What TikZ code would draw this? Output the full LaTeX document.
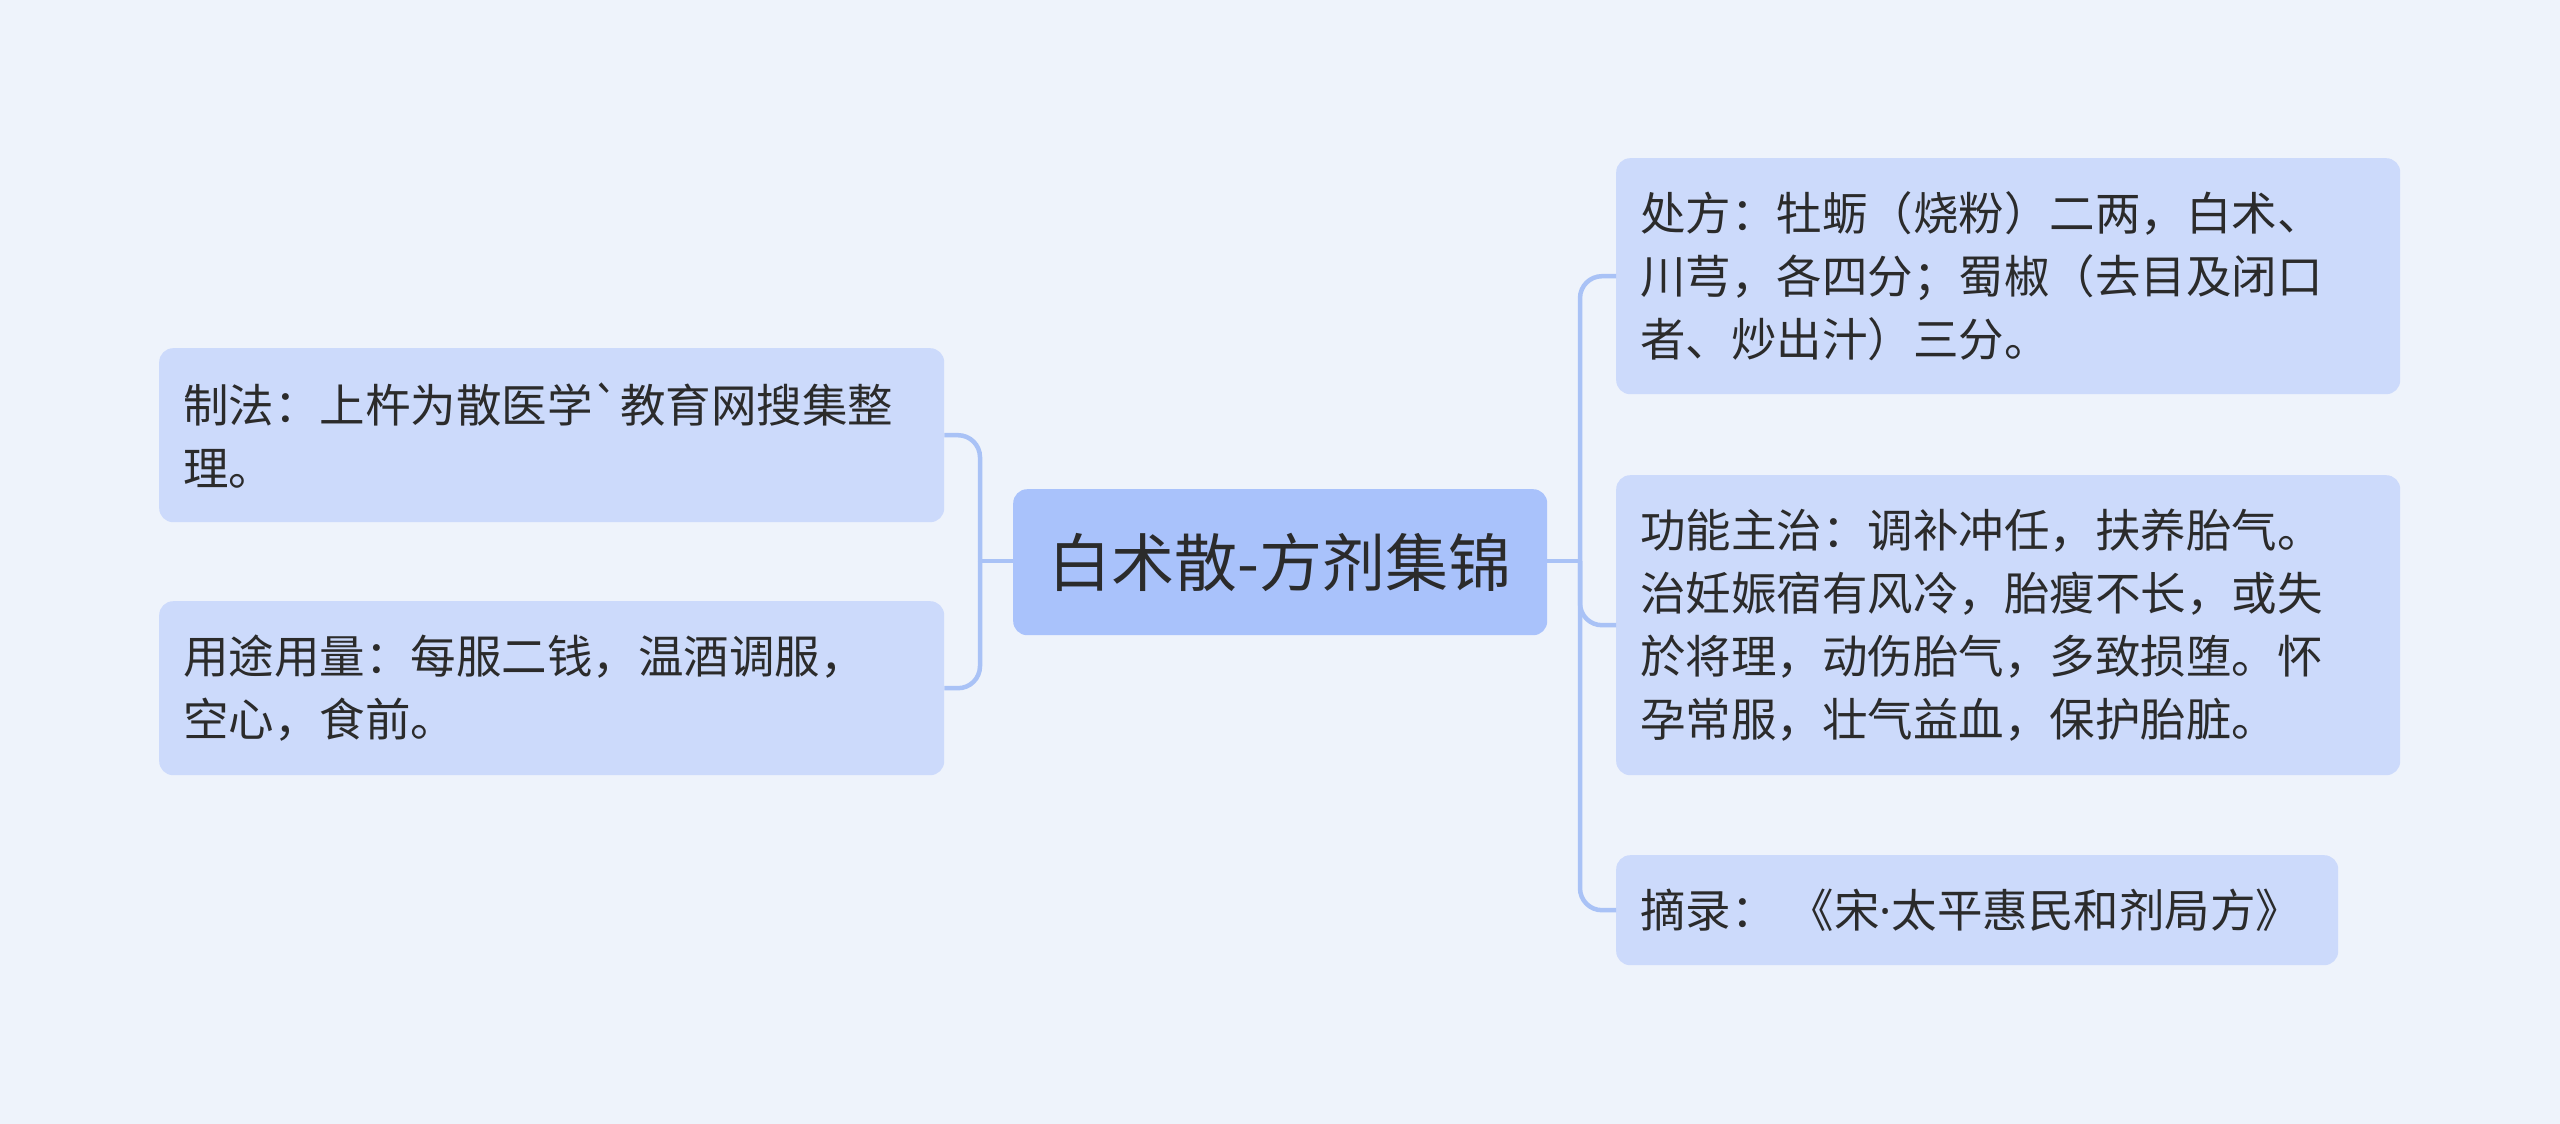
\documentclass[tikz,border=0pt]{standalone}
\usepackage{fontspec}
\newfontfamily\cjk{Noto Sans CJK SC}
\newfontfamily\latinf{Noto Sans}
\definecolor{bgc}{HTML}{EEF3FB}
\definecolor{leaf}{HTML}{CCDAFB}
\definecolor{root}{HTML}{A9C2FB}
\definecolor{linec}{HTML}{A9C2F6}
\definecolor{txtc}{HTML}{2B2B2B}
\tikzset{
  leafbox/.style={fill=leaf, draw=none, rounded corners=14pt, anchor=north west,
    align=left, inner xsep=24pt, inner ysep=0pt, text=txtc,
    font=\cjk\fontsize{45.5}{63}\selectfont},
  rootbox/.style={fill=root, draw=none, rounded corners=14pt, anchor=north west,
    align=center, inner sep=0pt, text=txtc, font=\cjk\fontsize{63}{70}\selectfont},
  conn/.style={draw=linec, line width=4.5pt},
  elbow/.style={conn, rounded corners=22pt}
}
\begin{document}
\begin{tikzpicture}[x=1pt,y=-1pt]
\fill[bgc] (0,0) rectangle (2560,1124);
\useasboundingbox (0,0) rectangle (2560,1124);

\node[rootbox, minimum width=534pt, minimum height=146pt] (c) at (1013,489) {白术散-方剂集锦};

\node[leafbox, minimum width=785pt, minimum height=174pt, text width=737pt] (l1) at (159,348)
  {制法：上杵为散医学`教育网搜集整\\理。};
\node[leafbox, minimum width=785pt, minimum height=174pt, text width=737pt] (l2) at (159,601)
  {用途用量：每服二钱，温酒调服，\\空心，食前。};

\node[leafbox, minimum width=784pt, minimum height=236pt, text width=736pt] (r1) at (1616,158)
  {处方：牡蛎（烧粉）二两，白术、\\川芎，各四分；蜀椒（去目及闭口\\者、炒出汁）三分。};
\node[leafbox, minimum width=784pt, minimum height=300pt, text width=736pt] (r2) at (1616,475)
  {功能主治：调补冲任，扶养胎气。\\治妊娠宿有风冷，胎瘦不长，或失\\於将理，动伤胎气，多致损堕。怀\\孕常服，壮气益血，保护胎脏。};
\node[leafbox, minimum width=722pt, minimum height=110pt, text width=674pt] (r3) at (1616,855)
  {摘录：\hspace{12pt}《宋{\latinf ·}太平惠民和剂局方》};

\coordinate (ls) at (980,561);
\coordinate (rs) at (1580,561);

\draw[conn] (c.west |- ls) -- (ls);
\draw[elbow] (ls) |- (l1.east);
\draw[elbow] (ls) |- (l2.east);

\draw[conn] (c.east |- rs) -- (rs);
\draw[elbow] (rs) |- (r1.west);
\draw[elbow] (rs) |- (r2.west);
\draw[elbow] (rs) |- (r3.west);
\end{tikzpicture}
\end{document}
